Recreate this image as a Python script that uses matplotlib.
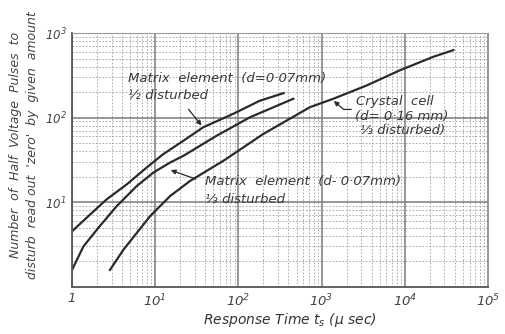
import numpy as np
import matplotlib.pyplot as plt
from matplotlib.ticker import FixedLocator, LogLocator, NullFormatter

# curve readings (response time in usec, pulse count)
half_t = [1.0, 1.65, 2.61, 4.54, 7.9, 12.5, 21.8, 37.8, 86.9, 180, 350]
half_n = [4.52, 7.14, 10.8, 16.2, 25.7, 37.0, 53.2, 76.9, 111, 158, 195]

third_t = [1.0, 1.37, 2.07, 3.44, 6.0, 9.5, 15.1, 21.8, 54.8, 138, 457]
third_n = [1.58, 2.99, 4.96, 8.96, 15.5, 22.4, 29.4, 35.3, 61.1, 101, 167]

crystal_t = [2.86, 4.14, 6.0, 8.66, 15.1, 26.2, 65.8, 199, 726, 1383, 3480, 8750, 22000, 38300]
crystal_n = [1.58, 2.73, 4.32, 6.81, 11.8, 17.8, 30.8, 64, 133, 167, 240, 363, 524, 628]

x_ticks = [1, 10, 100, 1000, 10000, 100000]
x_labels = ["1", "$10^1$", "$10^2$", "$10^3$", "$10^4$", "$10^5$"]
y_ticks = [10, 100, 1000]
y_labels = ["$10^1$", "$10^2$", "$10^3$"]

ink = "#2a2a2a"
plt.rcParams["font.family"] = "DejaVu Sans"
plt.rcParams["font.style"] = "italic"
plt.rcParams["mathtext.fontset"] = "dejavusans"

fig = plt.figure(figsize=(5.06, 3.34), dpi=100)
ax = fig.add_axes([0.1423, 0.1416, 0.8221, 0.7594])

ax.set_xscale("log")
ax.set_yscale("log")
ax.set_xlim(1, 1e5)
ax.set_ylim(1, 1e3)

# log paper grid
ax.xaxis.set_minor_locator(LogLocator(base=10, subs=np.arange(2, 10)))
ax.yaxis.set_minor_locator(LogLocator(base=10, subs=np.arange(2, 10)))
ax.xaxis.set_minor_formatter(NullFormatter())
ax.yaxis.set_minor_formatter(NullFormatter())
ax.grid(which="major", color="#7a7a7a", lw=1.1)
ax.grid(which="minor", color="#a0a0a0", lw=0.6, linestyle=(0, (2, 2)))
ax.set_axisbelow(True)

ax.xaxis.set_major_locator(FixedLocator(x_ticks))
ax.set_xticklabels(x_labels)
ax.yaxis.set_major_locator(FixedLocator(y_ticks))
ax.set_yticklabels(y_labels)
ax.tick_params(which="both", length=0, colors="#444")
ax.tick_params(axis="x", pad=4, labelsize=9.5)
ax.tick_params(axis="y", pad=4, labelsize=8.5)

for s in ["left", "bottom"]:
    ax.spines[s].set_color("#555")
    ax.spines[s].set_linewidth(1.3)
for s in ["top", "right"]:
    ax.spines[s].set_color("#999")
    ax.spines[s].set_linewidth(0.8)

ax.plot(half_t, half_n, color=ink, lw=1.6)
ax.plot(third_t, third_n, color=ink, lw=1.6)
ax.plot(crystal_t, crystal_n, color=ink, lw=1.6)

txt = dict(color="#3a3a3a", fontsize=9.5, style="italic")
ax.text(4.7, 289, "Matrix  element  (d=0·07mm)", **txt, va="center")
ax.text(4.7, 181, "½ disturbed", **txt, va="center")
ax.annotate("", xy=(37.8, 76), xytext=(24, 133),
            arrowprops=dict(arrowstyle="-|>", color=ink, lw=0.9, mutation_scale=7))

ax.text(2580, 154, "Crystal  cell", **txt, va="center")
ax.text(2540, 102, "(d= 0·16 mm)", **txt, va="center")
ax.text(2900, 71, "⅓ disturbed)", **txt, va="center")
ax.annotate("", xy=(1320, 165), xytext=(2450, 125),
            arrowprops=dict(arrowstyle="-|>", color=ink, lw=0.9, mutation_scale=7,
                            connectionstyle="angle,angleA=0,angleB=-40,rad=0"))

ax.text(39.7, 17.6, "Matrix  element  (d- 0·07mm)", **txt, va="center")
ax.text(39.7, 10.8, "⅓ disturbed", **txt, va="center")
ax.annotate("", xy=(14.3, 24.5), xytext=(33, 18.3),
            arrowprops=dict(arrowstyle="-|>", color=ink, lw=0.9, mutation_scale=7))

fig.text(0.573, 0.042, "Response Time $t_s$ ($\\mu$ sec)", ha="center", va="center",
         fontsize=10, color="#333", style="italic")
fig.text(0.047, 0.566, "Number  of  Half  Voltage  Pulses  to\ndisturb  read out  'zero'  by  given  amount",
         rotation=90, ha="center", va="center", fontsize=9, color="#444",
         linespacing=1.45, style="italic")

fig.savefig("out.png", dpi=100)
